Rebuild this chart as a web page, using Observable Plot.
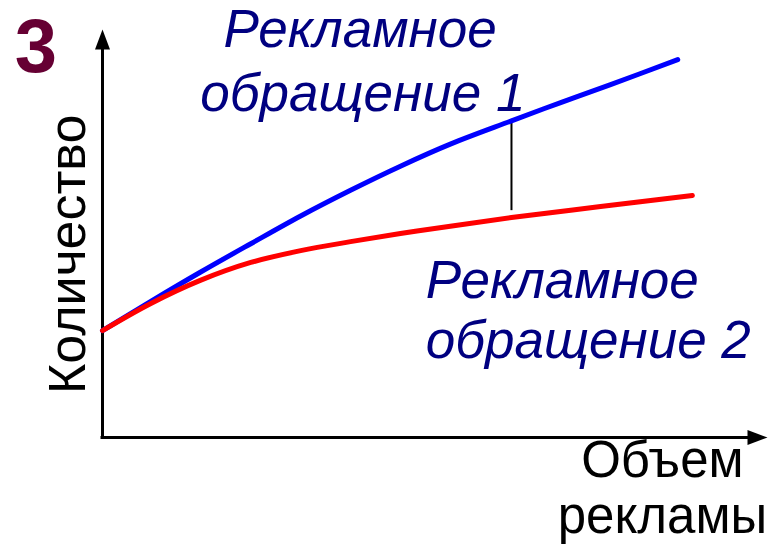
<!DOCTYPE html>
<html>
<head>
<meta charset="utf-8">
<script src="https://cdn.jsdelivr.net/npm/d3@7"></script>
<script src="https://cdn.jsdelivr.net/npm/@observablehq/plot@0.6"></script>
<style>
  html, body { margin: 0; padding: 0; background: #ffffff; }
  svg { display: block; }
</style>
</head>
<body>
<div id="chart"></div>
<script>
// ---- Data (advertising volume vs quantity, arbitrary units 0..10) ----
const volume1 = [0, 0.72, 1.47, 2.23, 2.98, 3.73, 4.48, 5.23, 6.15, 6.89, 7.64, 8.65];
const quantity1 = [2.62, 3.33, 4.05, 4.75, 5.43, 6.06, 6.65, 7.19, 7.76, 8.21, 8.65, 9.26];

const volume2 = [0, 0.72, 1.47, 2.23, 2.98, 3.73, 4.48, 5.23, 6.15, 7.49, 8.87];
const quantity2 = [2.62, 3.28, 3.85, 4.29, 4.58, 4.80, 5.00, 5.18, 5.39, 5.66, 5.93];

// gap marker between the two responses
const gapVolume = [6.15];
const gapTop = [7.76];
const gapBottom = [5.56];

// axis extent
const axisMin = [0];
const axisMax = [10];
const shaftEnd = [9.8];

// labels
const seriesLabels = ["Рекламное", "обращение 1", "Рекламное", "обращение 2"];
const seriesLabelX = [1.82, 1.47, 4.86, 4.86];
const seriesLabelY = [9.56, 8.01, 3.41, 1.94];

const xTitleLines = ["Объем", "рекламы"];
const xTitleX = [8.42, 8.42];
const xTitleY = [-0.98, -2.35];

const yTitle = ["Количество"];
const yTitleX = [-0.27];
const yTitleY = [4.49];

const panelNumber = ["3"];
const panelX = [-1.32];
const panelY = [8.95];

// ---- build tables ----
const curve1 = volume1.map((v, i) => ({v, q: quantity1[i]}));
const curve2 = volume2.map((v, i) => ({v, q: quantity2[i]}));
const gap = gapVolume.map((v, i) => ({v, top: gapTop[i], bottom: gapBottom[i]}));
const labels = seriesLabels.map((t, i) => ({t, x: seriesLabelX[i], y: seriesLabelY[i]}));
const xTitle = xTitleLines.map((t, i) => ({t, x: xTitleX[i], y: xTitleY[i]}));
const yTitleData = yTitle.map((t, i) => ({t, x: yTitleX[i], y: yTitleY[i]}));
const panel = panelNumber.map((t, i) => ({t, x: panelX[i], y: panelY[i]}));

// custom arrowhead symbols (tip at the anchor point)
const arrowUp = {
  draw(context, size) {
    const s = Math.sqrt(size / Math.PI);
    context.moveTo(0, 0);
    context.lineTo(0.75 * s, 2 * s);
    context.lineTo(-0.75 * s, 2 * s);
    context.closePath();
  }
};
const arrowRight = {
  draw(context, size) {
    const s = Math.sqrt(size / Math.PI);
    context.moveTo(0, 0);
    context.lineTo(-2 * s, 0.75 * s);
    context.lineTo(-2 * s, -0.75 * s);
    context.closePath();
  }
};

const font = "'Liberation Sans', Arial, Helvetica, sans-serif";
const navy = "#000080";

const chart = Plot.plot({
  width: 776,
  height: 548,
  marginLeft: 102,
  marginRight: 9,
  marginTop: 29,
  marginBottom: 111,
  style: {background: "#ffffff", overflow: "visible"},
  x: {domain: [axisMin[0], axisMax[0]], axis: null},
  y: {domain: [axisMin[0], axisMax[0]], axis: null},
  marks: [
    // axes
    Plot.ruleX(axisMin, {x: d => d, y1: axisMin[0], y2: shaftEnd[0], stroke: "black", strokeWidth: 3, strokeLinecap: "square"}),
    Plot.ruleY(axisMin, {y: d => d, x1: axisMin[0], x2: shaftEnd[0], stroke: "black", strokeWidth: 3, strokeLinecap: "square"}),
    Plot.dot(axisMin, {x: d => d, y: axisMax[0], symbol: arrowUp, r: 10, fill: "black", stroke: "none"}),
    Plot.dot(axisMin, {x: axisMax[0], y: d => d, symbol: arrowRight, r: 10, fill: "black", stroke: "none"}),
    // gap line
    Plot.ruleX(gap, {x: "v", y1: "bottom", y2: "top", stroke: "black", strokeWidth: 2}),
    // curves
    Plot.line(curve1, {x: "v", y: "q", stroke: "#0000ff", strokeWidth: 5, curve: "catmull-rom"}),
    Plot.line(curve2, {x: "v", y: "q", stroke: "#ff0000", strokeWidth: 5, curve: "catmull-rom"}),
    // series labels
    Plot.text(labels, {x: "x", y: "y", text: "t", textAnchor: "start", lineAnchor: "bottom",
      fontSize: 53, fontStyle: "italic", fontFamily: font, fill: navy}),
    // axis titles
    Plot.text(xTitle, {x: "x", y: "y", text: "t", textAnchor: "middle", lineAnchor: "bottom",
      fontSize: 51, fontFamily: font, fill: "black"}),
    Plot.text(yTitleData, {x: "x", y: "y", text: "t", textAnchor: "middle", lineAnchor: "bottom",
      rotate: -90, fontSize: 52, fontFamily: font, fill: "black"}),
    // panel number
    Plot.text(panel, {x: "x", y: "y", text: "t", textAnchor: "start", lineAnchor: "bottom",
      fontSize: 76, fontWeight: "bold", fontFamily: font, fill: "#660033"})
  ]
});

document.getElementById("chart").appendChild(chart);
</script>
</body>
</html>
